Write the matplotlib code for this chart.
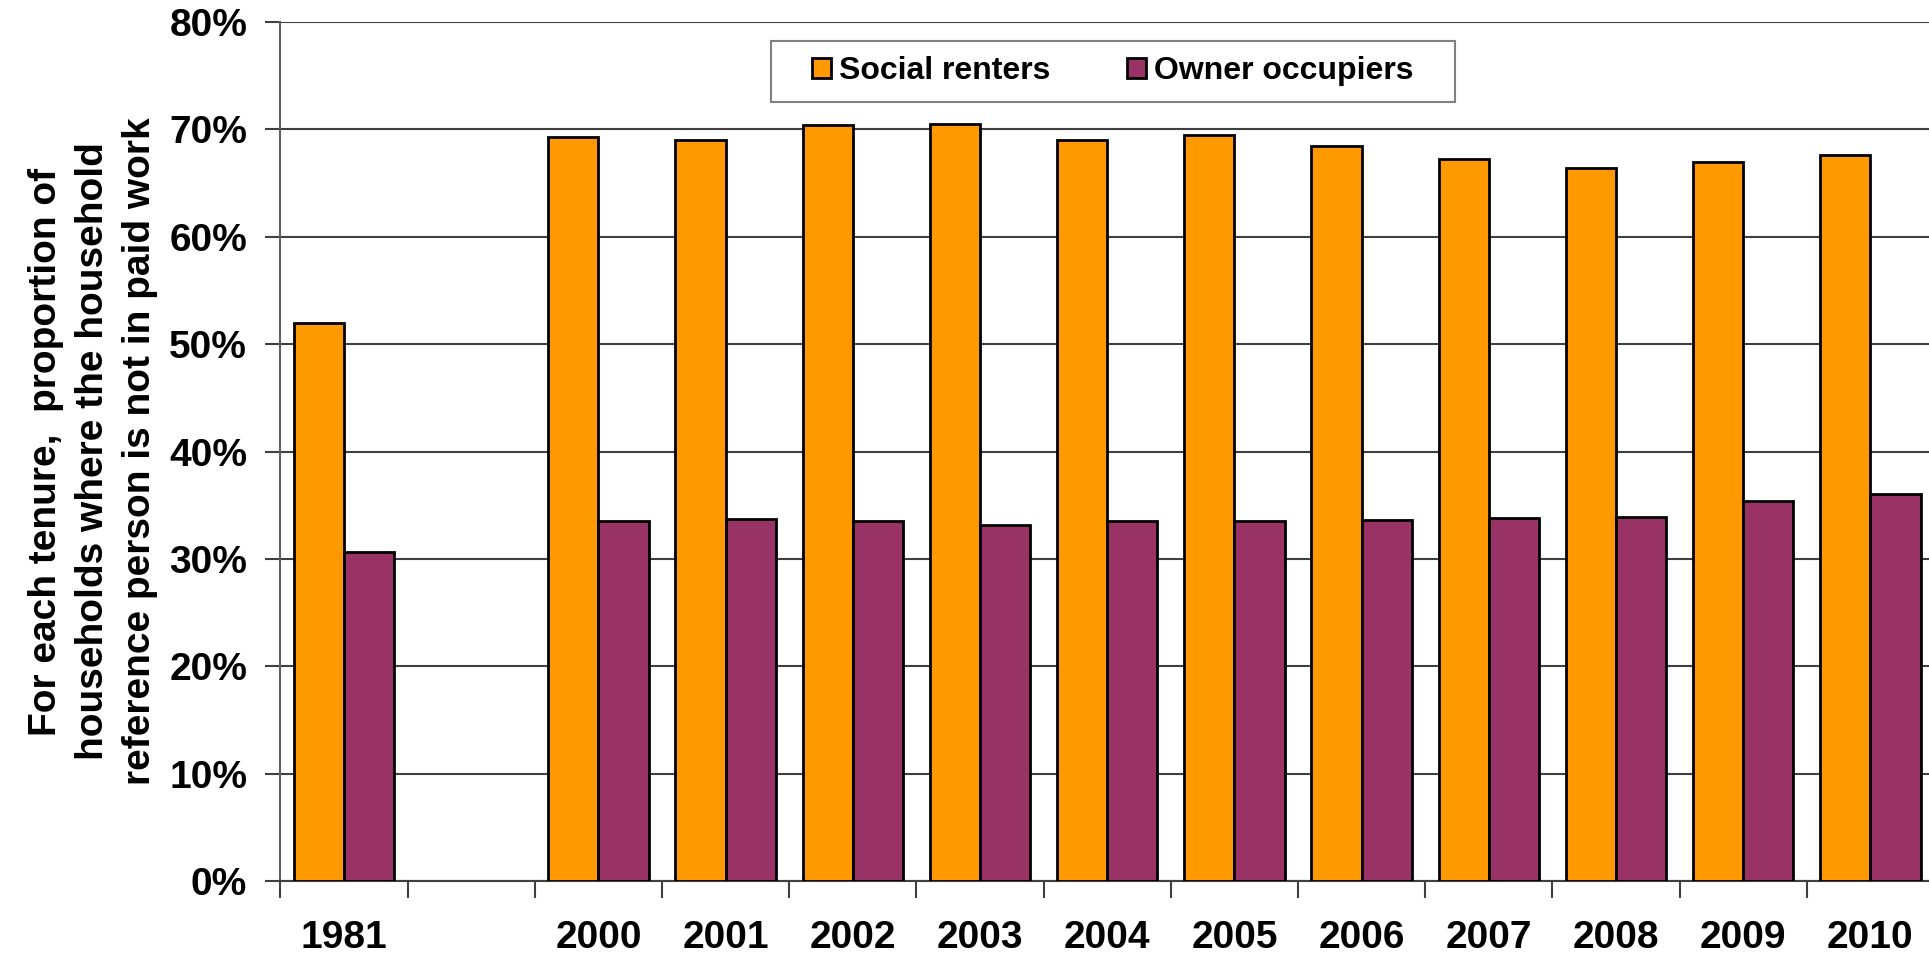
import numpy as np
import matplotlib.pyplot as plt
from matplotlib.patches import Rectangle

plt.rcParams['font.family'] = ['Liberation Sans', 'DejaVu Sans']
plt.rcParams['font.weight'] = 'bold'

years = ['1981', '', '2000', '2001', '2002', '2003', '2004', '2005',
         '2006', '2007', '2008', '2009', '2010']
social = [52.0, None, 69.3, 69.0, 70.4, 70.5, 69.0, 69.5, 68.5, 67.2, 66.4, 67.0, 67.6]
owner = [30.6, None, 33.5, 33.7, 33.5, 33.2, 33.5, 33.5, 33.6, 33.8, 33.9, 35.4, 36.0]
yticks = [0, 10, 20, 30, 40, 50, 60, 70, 80]

fig = plt.figure(figsize=(19.29, 9.58), dpi=100)
ax = fig.add_axes([0.1454, 0.0804, 0.8572, 0.8966])

x = np.arange(len(years))
w = 0.395
idx = [i for i in range(len(years)) if social[i] is not None]
ax.bar(x[idx] - w / 2, [social[i] for i in idx], w, color='#FF9900',
       edgecolor='black', linewidth=2, zorder=3, label='Social renters')
ax.bar(x[idx] + w / 2, [owner[i] for i in idx], w, color='#993366',
       edgecolor='black', linewidth=2, zorder=3, label='Owner occupiers')

ax.set_xlim(-0.5, len(years) - 0.5)
ax.set_ylim(0, 80)
ax.set_yticks(yticks)
ax.set_yticklabels([f'{v}%' for v in yticks], fontsize=28, fontweight='bold')
ax.set_xticks(x)
ax.set_xticklabels(years, fontsize=28, fontweight='bold')
# boundary ticks between categories
ax.set_xticks(np.arange(len(years) + 1) - 0.5, minor=True)
ax.tick_params(axis='x', which='major', length=0, pad=28)
ax.tick_params(axis='x', which='minor', length=12, width=1.5, color='#404040')
ax.tick_params(axis='y', length=11, width=1.5, color='#404040', pad=13)

ax.yaxis.grid(True, color='#404040', linewidth=1.5, zorder=0)
ax.set_axisbelow(True)
for s in ['top', 'right']:
    ax.spines[s].set_visible(False)
ax.spines['left'].set_color('#606060')
ax.spines['left'].set_linewidth(1.5)
ax.spines['bottom'].set_color('#404040')
ax.spines['bottom'].set_linewidth(1.5)

ax.set_ylabel('For each tenure,  proportion of\nhouseholds where the household\nreference person is not in paid work',
              fontsize=28, fontweight='bold', labelpad=8, linespacing=1.4)

# legend frame drawn separately (wider side padding than matplotlib gives)
fig.patches.append(Rectangle((0.3997, 0.8935), 0.3546, 0.0637, transform=fig.transFigure,
                             facecolor='white', edgecolor='#808080', linewidth=1.5, zorder=5))
leg = fig.legend(loc='center', bbox_to_anchor=(0.577, 0.9254), ncol=2,
                 fontsize=23, frameon=False,
                 handlelength=0.6, handleheight=0.6, handletextpad=0.25,
                 columnspacing=2.4, borderpad=0.45, borderaxespad=0)
leg.set_zorder(6)
for t in leg.get_texts():
    t.set_fontweight('bold')

fig.savefig('out.png', dpi=100)
